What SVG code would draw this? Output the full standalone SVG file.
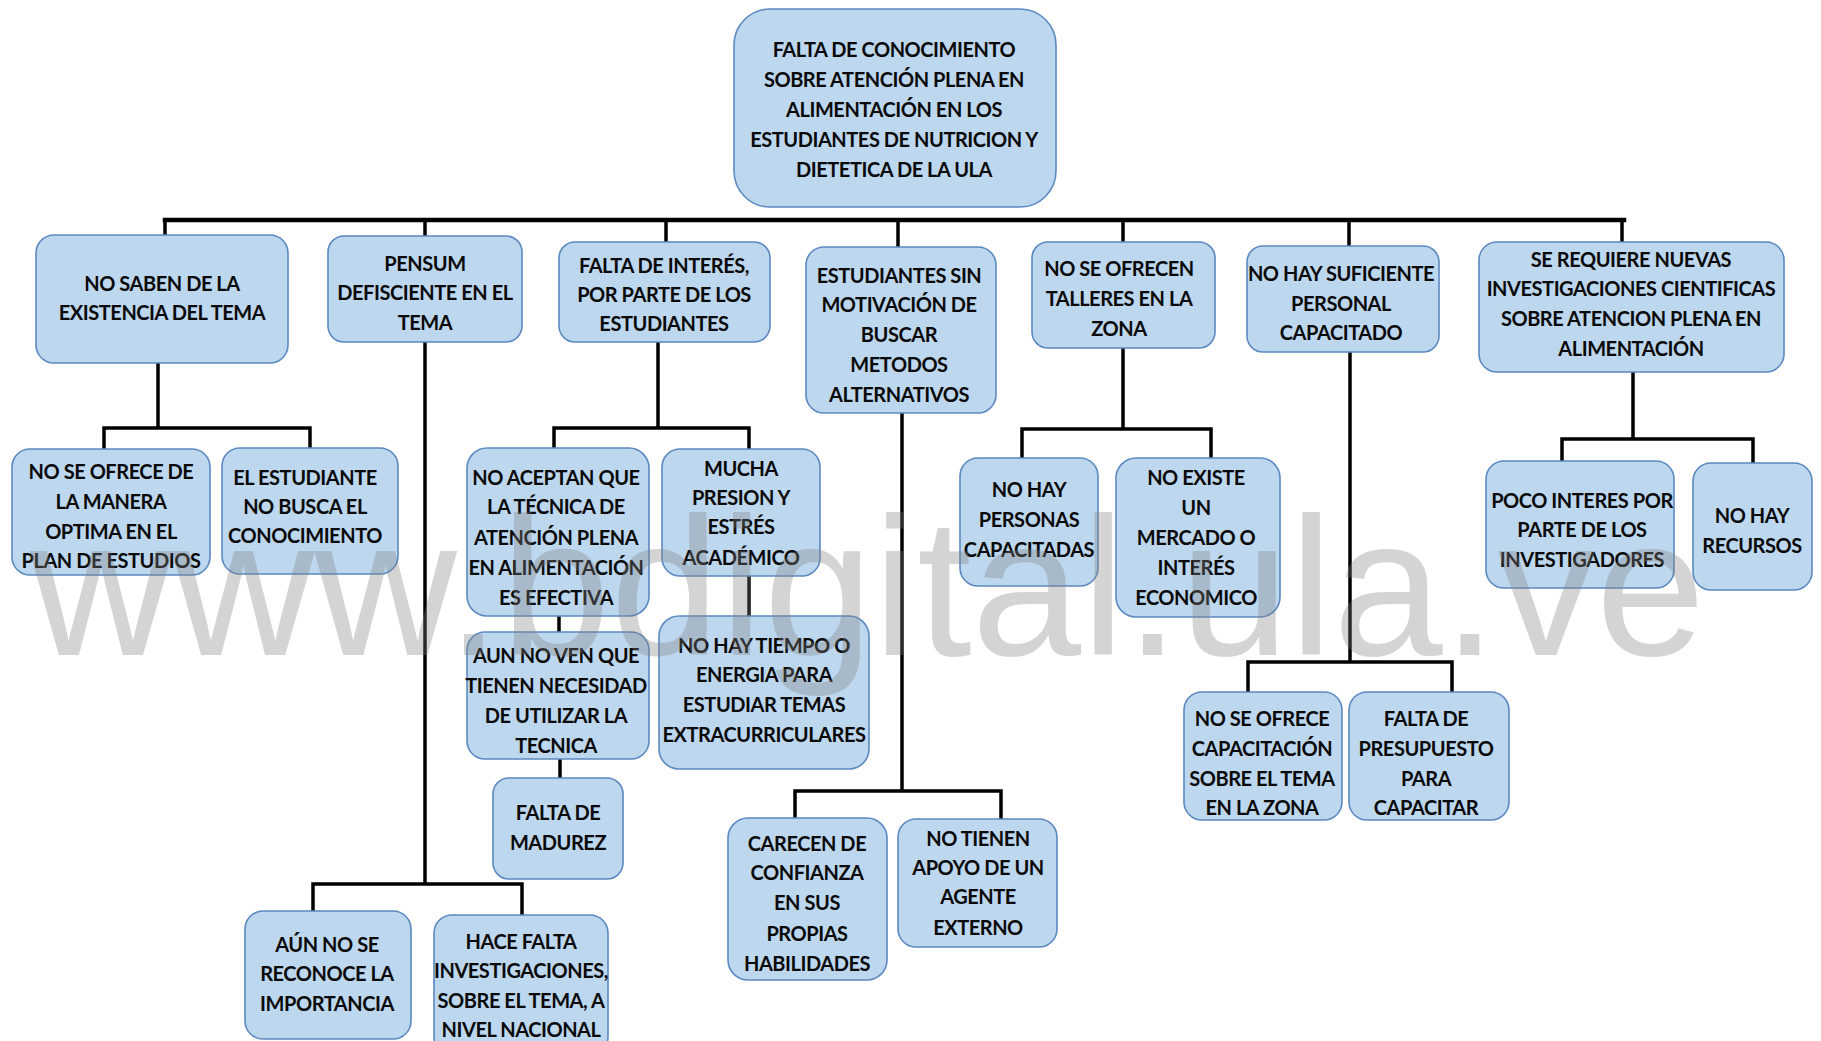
<svg xmlns="http://www.w3.org/2000/svg" width="1821" height="1041" viewBox="0 0 1821 1041">
<style>
.box{fill:#BDD7EE;stroke:#5B89C0;stroke-width:1.6}
.t{font-family:Lato,"Liberation Sans",sans-serif;font-weight:700;font-size:20px;letter-spacing:-0.45px;text-anchor:middle;fill:#0a0a0a}
.ln{stroke:#000;stroke-width:3.5;fill:none;stroke-linecap:square}
.wm{font-family:"Liberation Sans",Arial,sans-serif;font-size:197px;fill:#808080;opacity:0.33}
</style>
<rect width="1821" height="1041" fill="#fff"/>
<g id="connectors">
<path class="ln" style="stroke-width:4.5" d="M165 220 H1624"/>
<path class="ln" d="M165 220 V235 M425 220 V236 M666 220 V242 M898 220 V247 M1123 220 V242 M1349 220 V246 M1622 220 V242"/>
<path class="ln" d="M158 363 V428 M104 448 V428 H310 V448"/>
<path class="ln" d="M425 342 V884 M313 911 V884 H522 V915"/>
<path class="ln" d="M658 342 V428 M554 448 V428 H749 V449"/>
<path class="ln" d="M559 616 V632 M560 759 V778 M749 576 V616"/>
<path class="ln" d="M902 413 V791 M795 818 V791 H1001 V819"/>
<path class="ln" d="M1123 348 V429 M1022 458 V429 H1211 V458"/>
<path class="ln" d="M1350 352 V662 M1248 692 V662 H1452 V692"/>
<path class="ln" d="M1633 372 V439 M1562 461 V439 H1753 V463"/>
</g>
<g id="root"><rect class="box" x="734" y="9" width="322" height="198" rx="36"/>
<text class="t"><tspan x="894" y="57">FALTA DE CONOCIMIENTO</tspan><tspan x="894" y="87">SOBRE ATENCIÓN PLENA EN</tspan><tspan x="894" y="117">ALIMENTACIÓN EN LOS</tspan><tspan x="894" y="147">ESTUDIANTES DE NUTRICION Y</tspan><tspan x="894" y="177">DIETETICA DE LA ULA</tspan></text></g>
<g id="n1"><rect class="box" x="36" y="235" width="252" height="128" rx="18"/>
<text class="t"><tspan x="162" y="291">NO SABEN DE LA</tspan><tspan x="162" y="320">EXISTENCIA DEL TEMA</tspan></text></g>
<g id="n2"><rect class="box" x="328" y="236" width="194" height="106" rx="16"/>
<text class="t"><tspan x="425" y="271">PENSUM</tspan><tspan x="425" y="300">DEFISCIENTE EN EL</tspan><tspan x="425" y="330">TEMA</tspan></text></g>
<g id="n3"><rect class="box" x="559" y="242" width="211" height="100" rx="16"/>
<text class="t"><tspan x="664" y="273">FALTA DE INTERÉS,</tspan><tspan x="664" y="302">POR PARTE DE LOS</tspan><tspan x="664" y="331">ESTUDIANTES</tspan></text></g>
<g id="n4"><rect class="box" x="806" y="247" width="190" height="166" rx="18"/>
<text class="t"><tspan x="899" y="283">ESTUDIANTES SIN</tspan><tspan x="899" y="312">MOTIVACIÓN DE</tspan><tspan x="899" y="342">BUSCAR</tspan><tspan x="899" y="372">METODOS</tspan><tspan x="899" y="402">ALTERNATIVOS</tspan></text></g>
<g id="n5"><rect class="box" x="1032" y="242" width="183" height="106" rx="16"/>
<text class="t"><tspan x="1119" y="276">NO SE OFRECEN</tspan><tspan x="1119" y="306">TALLERES EN LA</tspan><tspan x="1119" y="336">ZONA</tspan></text></g>
<g id="n6"><rect class="box" x="1247" y="246" width="192" height="106" rx="16"/>
<text class="t"><tspan x="1341" y="281">NO HAY SUFICIENTE</tspan><tspan x="1341" y="311">PERSONAL</tspan><tspan x="1341" y="340">CAPACITADO</tspan></text></g>
<g id="n7"><rect class="box" x="1479" y="242" width="305" height="130" rx="18"/>
<text class="t"><tspan x="1631" y="267">SE REQUIERE NUEVAS</tspan><tspan x="1631" y="296">INVESTIGACIONES CIENTIFICAS</tspan><tspan x="1631" y="326">SOBRE ATENCION PLENA EN</tspan><tspan x="1631" y="356">ALIMENTACIÓN</tspan></text></g>
<g id="n1a"><rect class="box" x="12" y="449" width="198" height="126" rx="18"/>
<text class="t"><tspan x="111" y="479">NO SE OFRECE DE</tspan><tspan x="111" y="509">LA MANERA</tspan><tspan x="111" y="539">OPTIMA EN EL</tspan><tspan x="111" y="568">PLAN DE ESTUDIOS</tspan></text></g>
<g id="n1b"><rect class="box" x="222" y="448" width="176" height="126" rx="18"/>
<text class="t"><tspan x="305" y="485">EL ESTUDIANTE</tspan><tspan x="305" y="514">NO BUSCA EL</tspan><tspan x="305" y="543">CONOCIMIENTO</tspan></text></g>
<g id="n3a"><rect class="box" x="467" y="448" width="182" height="168" rx="20"/>
<text class="t"><tspan x="556" y="485">NO ACEPTAN QUE</tspan><tspan x="556" y="514">LA TÉCNICA DE</tspan><tspan x="556" y="545">ATENCIÓN PLENA</tspan><tspan x="556" y="575">EN ALIMENTACIÓN</tspan><tspan x="556" y="605">ES EFECTIVA</tspan></text></g>
<g id="n3b"><rect class="box" x="662" y="449" width="158" height="127" rx="18"/>
<text class="t"><tspan x="741" y="476">MUCHA</tspan><tspan x="741" y="505">PRESION Y</tspan><tspan x="741" y="534">ESTRÉS</tspan><tspan x="741" y="565">ACADÉMICO</tspan></text></g>
<g id="n3c"><rect class="box" x="467" y="632" width="182" height="127" rx="18"/>
<text class="t"><tspan x="556" y="663">AUN NO VEN QUE</tspan><tspan x="556" y="693">TIENEN NECESIDAD</tspan><tspan x="556" y="723">DE UTILIZAR LA</tspan><tspan x="556" y="753">TECNICA</tspan></text></g>
<g id="n3d"><rect class="box" x="493" y="778" width="130" height="101" rx="16"/>
<text class="t"><tspan x="558" y="820">FALTA DE</tspan><tspan x="558" y="850">MADUREZ</tspan></text></g>
<g id="n3e"><rect class="box" x="659" y="616" width="210" height="153" rx="20"/>
<text class="t"><tspan x="764" y="653">NO HAY TIEMPO O</tspan><tspan x="764" y="682">ENERGIA PARA</tspan><tspan x="764" y="712">ESTUDIAR TEMAS</tspan><tspan x="764" y="742">EXTRACURRICULARES</tspan></text></g>
<g id="n2a"><rect class="box" x="245" y="911" width="166" height="128" rx="18"/>
<text class="t"><tspan x="327" y="952">AÚN NO SE</tspan><tspan x="327" y="981">RECONOCE LA</tspan><tspan x="327" y="1011">IMPORTANCIA</tspan></text></g>
<g id="n2b"><rect class="box" x="434" y="915" width="174" height="140" rx="18"/>
<text class="t"><tspan x="521" y="949">HACE FALTA</tspan><tspan x="521" y="978">INVESTIGACIONES,</tspan><tspan x="521" y="1008">SOBRE EL TEMA, A</tspan><tspan x="521" y="1037">NIVEL NACIONAL</tspan></text></g>
<g id="n4a"><rect class="box" x="728" y="818" width="159" height="162" rx="20"/>
<text class="t"><tspan x="807" y="851">CARECEN DE</tspan><tspan x="807" y="880">CONFIANZA</tspan><tspan x="807" y="910">EN SUS</tspan><tspan x="807" y="941">PROPIAS</tspan><tspan x="807" y="971">HABILIDADES</tspan></text></g>
<g id="n4b"><rect class="box" x="898" y="819" width="159" height="128" rx="18"/>
<text class="t"><tspan x="978" y="846">NO TIENEN</tspan><tspan x="978" y="875">APOYO DE UN</tspan><tspan x="978" y="904">AGENTE</tspan><tspan x="978" y="935">EXTERNO</tspan></text></g>
<g id="n5a"><rect class="box" x="960" y="458" width="138" height="128" rx="18"/>
<text class="t"><tspan x="1029" y="497">NO HAY</tspan><tspan x="1029" y="527">PERSONAS</tspan><tspan x="1029" y="557">CAPACITADAS</tspan></text></g>
<g id="n5b"><rect class="box" x="1116" y="458" width="164" height="159" rx="20"/>
<text class="t"><tspan x="1196" y="485">NO EXISTE</tspan><tspan x="1196" y="515">UN</tspan><tspan x="1196" y="545">MERCADO O</tspan><tspan x="1196" y="575">INTERÉS</tspan><tspan x="1196" y="605">ECONOMICO</tspan></text></g>
<g id="n6a"><rect class="box" x="1184" y="692" width="158" height="128" rx="18"/>
<text class="t"><tspan x="1262" y="726">NO SE OFRECE</tspan><tspan x="1262" y="756">CAPACITACIÓN</tspan><tspan x="1262" y="786">SOBRE EL TEMA</tspan><tspan x="1262" y="815">EN LA ZONA</tspan></text></g>
<g id="n6b"><rect class="box" x="1349" y="692" width="160" height="128" rx="18"/>
<text class="t"><tspan x="1426" y="726">FALTA DE</tspan><tspan x="1426" y="756">PRESUPUESTO</tspan><tspan x="1426" y="786">PARA</tspan><tspan x="1426" y="815">CAPACITAR</tspan></text></g>
<g id="n7a"><rect class="box" x="1486" y="461" width="188" height="127" rx="18"/>
<text class="t"><tspan x="1582" y="508">POCO INTERES POR</tspan><tspan x="1582" y="537">PARTE DE LOS</tspan><tspan x="1582" y="567">INVESTIGADORES</tspan></text></g>
<g id="n7b"><rect class="box" x="1693" y="463" width="119" height="127" rx="18"/>
<text class="t"><tspan x="1752" y="523">NO HAY</tspan><tspan x="1752" y="553">RECURSOS</tspan></text></g>
<text class="wm" x="30" y="655">www.bdigital.ula.ve</text>
</svg>
